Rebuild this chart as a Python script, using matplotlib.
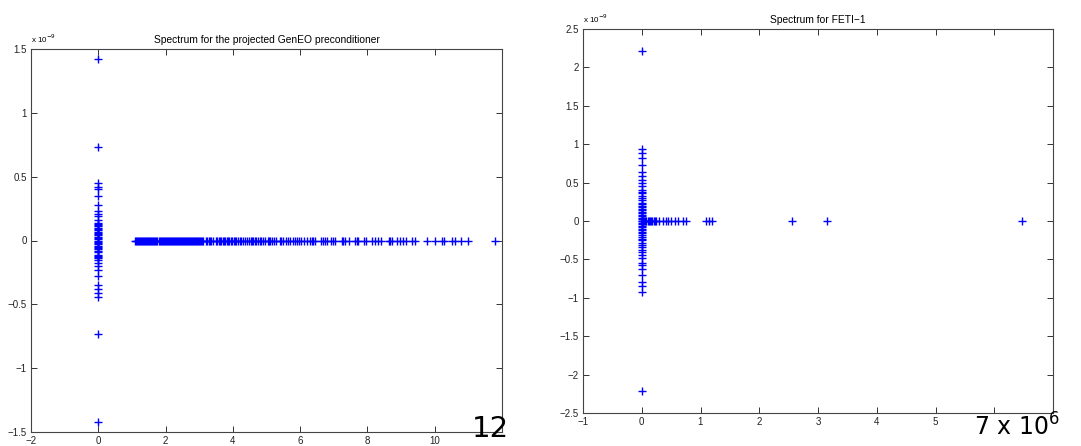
import numpy as np
import matplotlib
matplotlib.use('Agg')
import matplotlib.pyplot as plt

# GenEO spectrum: imaginary parts (x 1e-9) of the eigenvalues sitting at real part 0
geneo_zero_imag = [1.42, 0.73, 0.45, 0.42, 0.40, 0.35, 0.28, 0.23, 0.21, 0.19,
                   0.16, 0.14, 0.13, 0.12, 0.11, 0.10, 0.09, 0.08, 0.07, 0.06,
                   0.05, 0.04, 0.03, 0.02, 0.01, 0.0, -0.01, -0.02, -0.03, -0.04,
                   -0.05, -0.06, -0.07, -0.08, -0.09, -0.11, -0.12, -0.13, -0.14,
                   -0.15, -0.18, -0.20, -0.23, -0.28, -0.35, -0.38, -0.41, -0.44,
                   -0.73, -1.42]
# GenEO spectrum: real eigenvalues (imaginary part 0)
geneo_real = [1.10, 1.13, 1.16, 1.19, 1.22, 1.25, 1.28, 1.31, 1.34, 1.37, 1.40, 1.43,
              1.46, 1.49, 1.52, 1.55, 1.58, 1.61, 1.64, 1.67, 1.70, 1.73, 1.76, 1.79,
              1.82, 1.85, 1.88, 1.91, 1.94, 1.97, 2.00, 2.03, 2.06, 2.09, 2.12, 2.15,
              2.18, 2.21, 2.24, 2.27, 2.30, 2.33, 2.36, 2.39, 2.42, 2.45, 2.48, 2.51,
              2.54, 2.57, 2.60, 2.63, 2.66, 2.69, 2.72, 2.75, 2.78, 2.81, 2.84, 2.87,
              2.90, 2.93, 2.96, 2.99, 3.02, 3.05, 3.08, 3.10, 3.20, 3.24, 3.28, 3.32,
              3.36, 3.40, 3.50, 3.54, 3.58, 3.62, 3.66, 3.70, 3.74, 3.78, 3.82, 3.86,
              3.90, 3.94, 3.98, 4.02, 4.06, 4.10, 4.15, 4.20, 4.25, 4.30, 4.35, 4.43,
              4.48, 4.53, 4.57, 4.61, 4.65, 4.70, 4.75, 4.80, 4.85, 4.91, 4.97, 5.04,
              5.08, 5.11, 5.16, 5.22, 5.29, 5.39, 5.44, 5.49, 5.59, 5.64, 5.69, 5.79,
              5.86, 5.92, 5.98, 6.04, 6.12, 6.19, 6.29, 6.34, 6.39, 6.44, 6.61, 6.67,
              6.73, 6.81, 6.91, 6.98, 7.05, 7.23, 7.28, 7.32, 7.46, 7.64, 7.68, 7.73,
              7.91, 7.96, 8.14, 8.23, 8.32, 8.41, 8.64, 8.68, 8.73, 8.87, 8.96, 9.05,
              9.14, 9.32, 9.41, 9.78, 10.0, 10.23, 10.27, 10.5, 10.59, 10.77, 11.0,
              11.78]

# FETI-1 spectrum: imaginary parts (x 1e-9) at real part 0
feti_zero_imag = [2.22, 0.94, 0.88, 0.82, 0.73, 0.64, 0.58, 0.54, 0.50, 0.45, 0.40,
                  0.38, 0.36, 0.32, 0.30, 0.27, 0.24, 0.22, 0.20, 0.18, 0.16, 0.14,
                  0.12, 0.10, 0.08, 0.06, 0.04, 0.02, 0.0, -0.02, -0.04, -0.06,
                  -0.08, -0.10, -0.12, -0.14, -0.16, -0.18, -0.21, -0.23, -0.25,
                  -0.28, -0.31, -0.34, -0.38, -0.41, -0.44, -0.48, -0.55, -0.57,
                  -0.63, -0.70, -0.79, -0.85, -0.92, -2.22]
# FETI-1 spectrum: real eigenvalues (x 1e6)
feti_real = [0.0, 0.02, 0.04, 0.06, 0.08, 0.10, 0.12, 0.14, 0.16, 0.18, 0.20, 0.22,
             0.24, 0.30, 0.36, 0.42, 0.45, 0.50, 0.56, 0.61, 0.70, 0.76, 1.10, 1.15,
             1.19, 2.56, 3.16, 6.48]

W, H = 1081, 446
fig = plt.figure(figsize=(W / 100, H / 100), dpi=100)
plt.rcParams['font.family'] = ['Liberation Sans', 'DejaVu Sans']


def px_axes(x0, y0, x1, y1):
    return fig.add_axes([x0 / W, 1 - y1 / H, (x1 - x0) / W, (y1 - y0) / H])


def style(ax):
    for s in ax.spines.values():
        s.set_color('#444444')
        s.set_linewidth(0.8)
    ax.tick_params(direction='in', length=4, width=0.7, color='#333333',
                   top=True, right=True, labelsize=7, labelcolor='#222222', pad=3)


mk = dict(linestyle='none', marker='+', color='blue', markersize=6, markeredgewidth=1.0)

# left panel
ax1 = px_axes(31, 49, 502, 432)
ax1.plot(np.zeros(len(geneo_zero_imag)), np.array(geneo_zero_imag) * 1e-9, **mk)
ax1.plot(geneo_real, np.zeros(len(geneo_real)), **mk)
ax1.set_xlim(-2, 12)
ax1.set_ylim(-1.5e-9, 1.5e-9)
ax1.set_xticks(range(-2, 13, 2))
ax1.set_xticklabels(['\u22122', '0', '2', '4', '6', '8', '10', ''])
yt1 = [-1.5, -1, -0.5, 0, 0.5, 1, 1.5]
ax1.set_yticks(np.array(yt1) * 1e-9)
ax1.set_yticklabels([('%g' % v).replace('-', '\u2212') for v in yt1])
style(ax1)
ax1.set_title('Spectrum for the projected GenEO preconditioner', fontsize=7.4, pad=4)
fig.text(31 / W, 1 - 45 / H, r'x 10$^{-9}$', fontsize=5.8, ha='left', va='bottom')
fig.text(509 / W, 1 - 443 / H, '12', fontsize=21, ha='right', va='bottom',
         family='DejaVu Sans')

# right panel
ax2 = px_axes(583, 29, 1053, 413)
ax2.plot(np.zeros(len(feti_zero_imag)), np.array(feti_zero_imag) * 1e-9, **mk)
ax2.plot(np.array(feti_real) * 1e6, np.zeros(len(feti_real)), **mk)
ax2.set_xlim(-1e6, 7e6)
ax2.set_ylim(-2.5e-9, 2.5e-9)
ax2.set_xticks(np.arange(-1, 8) * 1e6)
ax2.set_xticklabels(['\u22121', '0', '1', '2', '3', '4', '5', '', ''])
yt2 = [-2.5, -2, -1.5, -1, -0.5, 0, 0.5, 1, 1.5, 2, 2.5]
ax2.set_yticks(np.array(yt2) * 1e-9)
ax2.set_yticklabels([('%g' % v).replace('-', '\u2212') for v in yt2])
style(ax2)
ax2.set_title('Spectrum for FETI\u22121', fontsize=7.4, pad=4)
fig.text(583 / W, 1 - 25 / H, r'x 10$^{-9}$', fontsize=5.8, ha='left', va='bottom')
fig.text(1060 / W, 1 - 441 / H, r'7 x 10$^6$', fontsize=17, ha='right', va='bottom',
         family='DejaVu Sans')

fig.savefig('out.png', dpi=100)
